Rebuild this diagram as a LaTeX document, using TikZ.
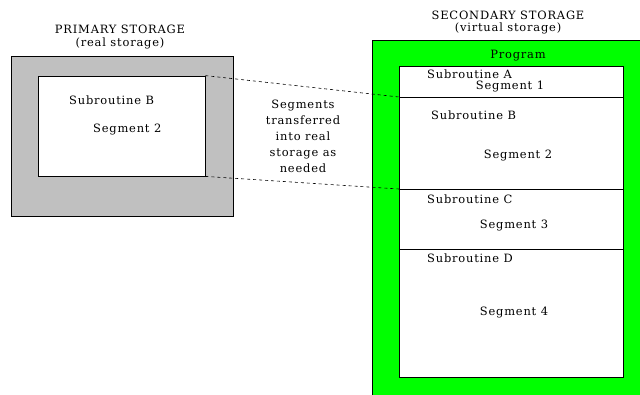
\documentclass[tikz,border=0pt]{standalone}
\usepackage{fontspec}
\setmainfont{DejaVu Serif}[LetterSpace=7]
\begin{document}
\begin{tikzpicture}[x=1bp,y=-1bp,
  lbl/.style={font=\fontsize{11.5}{16}\selectfont, inner sep=0pt, text=black},
  box/.style={draw=black, line width=0.8pt, inner sep=0pt},
  divline/.style={draw=black, line width=0.7pt},
  link/.style={draw=black, dashed, line width=0.6pt}]
\useasboundingbox (0,0) rectangle (640,394);
\definecolor{grayfill}{RGB}{192,192,192}
\definecolor{greenfill}{RGB}{0,255,0}
% primary storage
\node[box, fill=grayfill, minimum width=222bp, minimum height=160bp] (prim) at (122,136) {};
\node[box, fill=white, minimum width=167bp, minimum height=100bp] (pin) at (121.5,126) {};
\node[lbl] (ptitle) at (120,29) {PRIMARY STORAGE};
\node[lbl] (psub) at (120,43) {(real storage)};
\node[lbl, anchor=west] (psb) at (69,100) {Subroutine B};
\node[lbl, anchor=west] (pseg) at (93,130) {Segment 2};
% secondary storage
\begin{scope}
\clip (0,0) rectangle (640,394);
\node[box, fill=greenfill, minimum width=280bp, minimum height=370bp, anchor=north west] (sec) at (372,40) {};
\end{scope}
\node[box, fill=white, minimum width=224bp, minimum height=311bp, anchor=north west] (prog) at (399,66) {};
\coordinate (d1l) at (399,97); \coordinate (d1r) at (623,97);
\coordinate (d2l) at (399,189); \coordinate (d2r) at (623,189);
\coordinate (d3l) at (399,249); \coordinate (d3r) at (623,249);
\draw[divline] (d1l) -- (d1r);
\draw[divline] (d2l) -- (d2r);
\draw[divline] (d3l) -- (d3r);
\node[lbl] (stitle) at (508,15) {SECONDARY STORAGE};
\node[lbl] (ssub) at (508,28) {(virtual storage)};
\node[lbl] (progl) at (518,56) {Program};
\node[lbl, anchor=west] (sa) at (427,74) {Subroutine A};
\node[lbl] (s1) at (510,87) {Segment 1};
\node[lbl, anchor=west] (sb) at (431,115) {Subroutine B};
\node[lbl] (s2) at (518,156) {Segment 2};
\node[lbl, anchor=west] (sc) at (427,199) {Subroutine C};
\node[lbl] (s3) at (514,226) {Segment 3};
\node[lbl, anchor=west] (sd) at (427,258) {Subroutine D};
\node[lbl] (s4) at (514,313) {Segment 4};
% transfer
\node[lbl, align=center] (mid) at (303,136) {Segments\\transferred\\into real\\storage as\\needed};
\draw[link] (pin.north east) -- (d1l);
\draw[link] (pin.south east) -- (d2l);
\end{tikzpicture}
\end{document}
